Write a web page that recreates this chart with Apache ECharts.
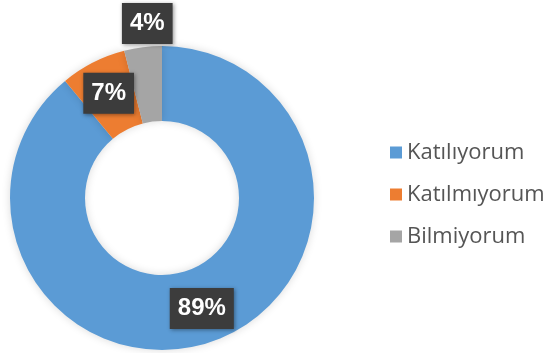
<!DOCTYPE html>
<html>
<head>
<meta charset="utf-8">
<script src="https://cdn.jsdelivr.net/npm/echarts@6/dist/echarts.min.js"></script>
<style>
  html, body { margin: 0; padding: 0; background: #fff; }
  #chart { width: 552px; height: 353px; }
</style>
</head>
<body>
<div id="chart"></div>
<script>
// answers and their shares (%)
var categories = ['Katılıyorum', 'Katılmıyorum', 'Bilmiyorum'];
var values = [89, 7, 4];
var colors = ['#5b9bd5', '#ed7d31', '#a5a5a5'];

var chart = echarts.init(document.getElementById('chart'));

var seriesData = [];
for (var i = 0; i < categories.length; i++) {
  var item = {
    name: categories[i],
    value: values[i],
    itemStyle: { color: colors[i] }
  };
  // the small grey slice has its label pushed above the ring
  if (i == 2) {
    item.label = { offset: [0, -58] };
  }
  seriesData.push(item);
}

var option = {
  animation: false,
  legend: {
    orient: 'vertical',
    left: 385,
    top: 136,
    itemWidth: 12,
    itemHeight: 12,
    itemGap: 19,
    icon: 'rect',
    textStyle: {
      fontFamily: 'Open Sans',
      fontSize: 22,
      lineHeight: 23,
      color: '#555555'
    },
    data: categories
  },
  series: [
    {
      type: 'pie',
      center: [162, 198],
      radius: [77, 152],
      startAngle: 90,
      clockwise: true,
      avoidLabelOverlap: false,
      itemStyle: {
        shadowBlur: 8,
        shadowColor: 'rgba(0,0,0,0.15)'
      },
      label: {
        show: true,
        position: 'inside',
        formatter: '{c}%',
        color: '#fff',
        fontFamily: 'Liberation Sans',
        fontWeight: 'bold',
        fontSize: 24,
        backgroundColor: '#3c3c3c',
        padding: [9, 8, 8, 8],
        shadowBlur: 4,
        shadowColor: 'rgba(0,0,0,0.4)',
        shadowOffsetX: 1,
        shadowOffsetY: 1
      },
      labelLine: { show: false },
      emphasis: { disabled: true },
      data: seriesData
    }
  ]
};

chart.setOption(option);
</script>
</body>
</html>
